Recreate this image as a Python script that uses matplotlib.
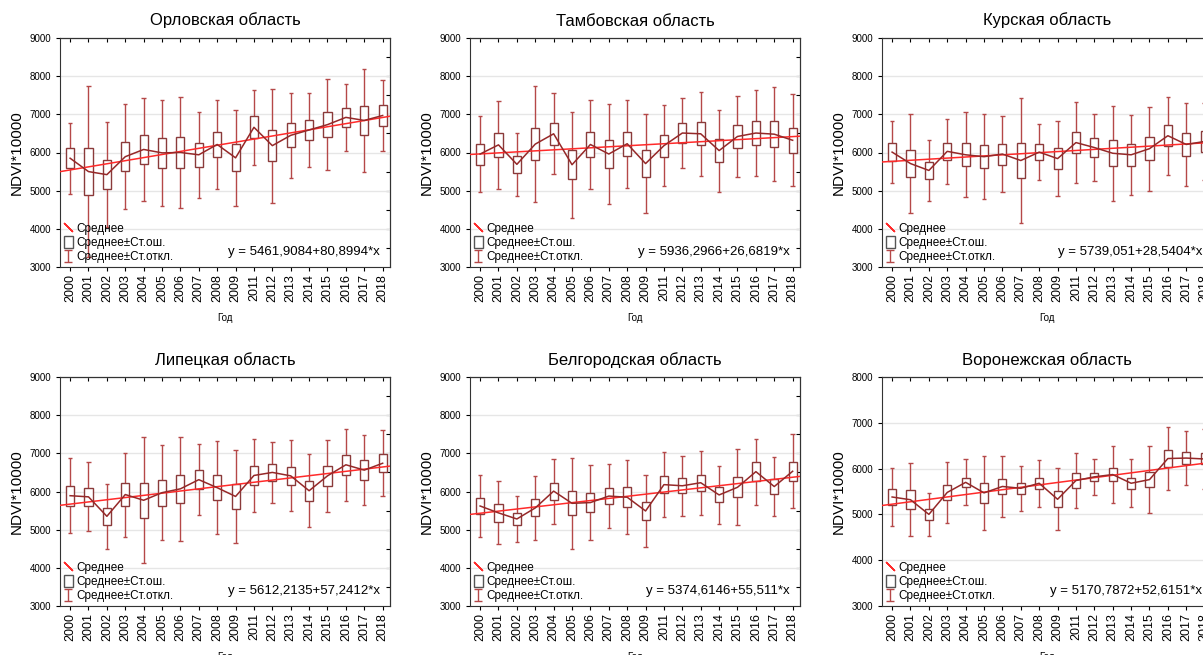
import numpy as np
import matplotlib
matplotlib.use("Agg")
from matplotlib import pyplot as plt
from matplotlib.lines import Line2D
from matplotlib.patches import Rectangle

plt.rcParams['font.family'] = ['Liberation Sans', 'DejaVu Sans']

years = ['2000', '2001', '2002', '2003', '2004', '2005', '2006', '2007', '2008',
         '2009', '2011', '2012', '2013', '2014', '2015', '2016', '2017', '2018']

titles = ['Орловская область', 'Тамбовская область', 'Курская область',
          'Липецкая область', 'Белгородская область', 'Воронежская область']

# mean, standard error, standard deviation of NDVI*10000 by year
orel_mean = [5850, 5500, 5420, 5890, 6080, 5990, 6000, 5940, 6210, 5860, 6660, 6180, 6450, 6590, 6730, 6920, 6840, 6970]
orel_se = [255, 625, 380, 380, 370, 385, 405, 310, 320, 350, 290, 410, 310, 270, 330, 245, 375, 265]
orel_sd = [930, 2240, 1370, 1370, 1355, 1380, 1460, 1130, 1165, 1255, 990, 1495, 1120, 965, 1200, 870, 1345, 930]

tamb_mean = [5960, 6200, 5690, 6220, 6490, 5680, 6210, 5960, 6230, 5710, 6180, 6510, 6490, 6050, 6420, 6510, 6480, 6320]
tamb_se = [275, 315, 230, 425, 295, 385, 325, 365, 320, 360, 290, 250, 300, 300, 290, 305, 335, 335]
tamb_sd = [990, 1150, 830, 1520, 1060, 1390, 1170, 1315, 1150, 1305, 1060, 905, 1105, 1075, 1065, 1120, 1230, 1205]

kursk_mean = [6010, 5710, 5530, 6030, 5940, 5890, 5960, 5790, 6010, 5840, 6260, 6130, 5980, 5940, 6100, 6440, 6210, 6290]
kursk_se = [230, 355, 220, 225, 305, 305, 275, 450, 200, 270, 285, 250, 340, 295, 300, 280, 305, 270]
kursk_sd = [820, 1295, 810, 850, 1110, 1120, 995, 1630, 725, 990, 1055, 880, 1245, 1045, 1100, 1025, 1095, 1000]

lip_mean = [5890, 5860, 5350, 5920, 5770, 5970, 6070, 6310, 6100, 5870, 6420, 6500, 6410, 6020, 6410, 6700, 6560, 6740]
lip_se = [265, 240, 230, 295, 455, 340, 375, 250, 330, 330, 255, 215, 245, 260, 255, 255, 255, 235]
lip_sd = [985, 905, 850, 1100, 1645, 1240, 1360, 935, 1225, 1230, 955, 805, 930, 955, 945, 950, 925, 870]

belg_mean = [5620, 5440, 5280, 5570, 6010, 5690, 5710, 5880, 5850, 5490, 6180, 6150, 6230, 5910, 6110, 6520, 6130, 6530]
belg_se = [205, 230, 160, 225, 225, 315, 260, 220, 255, 230, 225, 195, 215, 195, 260, 245, 200, 250]
belg_sd = [800, 825, 615, 835, 850, 1185, 975, 830, 970, 950, 860, 780, 835, 755, 995, 865, 770, 965]

vor_mean = [5380, 5320, 5000, 5480, 5700, 5470, 5610, 5570, 5680, 5330, 5740, 5820, 5870, 5680, 5760, 6220, 6230, 6210]
vor_se = [165, 210, 125, 170, 95, 215, 160, 115, 120, 175, 155, 85, 135, 115, 160, 180, 140, 120]
vor_sd = [625, 795, 470, 660, 500, 800, 660, 490, 515, 680, 600, 400, 630, 520, 735, 680, 595, 660]

# regression y = a + b*x, x = 1..18
reg_a = [5461.9084, 5936.2966, 5739.051, 5612.2135, 5374.6146, 5170.7872]
reg_b = [80.8994, 26.6819, 28.5404, 57.2412, 55.511, 52.6151]
eq_text = ['y = 5461,9084+80,8994*x', 'y = 5936,2966+26,6819*x', 'y = 5739,051+28,5404*x',
           'y = 5612,2135+57,2412*x', 'y = 5374,6146+55,511*x', 'y = 5170,7872+52,6151*x']
y_top = [9000, 9000, 9000, 9000, 9000, 8000]

data = [(orel_mean, orel_se, orel_sd), (tamb_mean, tamb_se, tamb_sd),
        (kursk_mean, kursk_se, kursk_sd), (lip_mean, lip_se, lip_sd),
        (belg_mean, belg_se, belg_sd), (vor_mean, vor_se, vor_sd)]

W, H = 1203, 655
fig = plt.figure(figsize=(W / 100, H / 100), dpi=100)

lefts = [60, 470, 882]
tops = [38, 377]
aw, ah = 330, 229

box_col = '#8a3a3a'
wh_col = '#b54848'
mean_col = '#962828'
reg_col = '#ff2a2a'

for k in range(6):
    r, c = divmod(k, 3)
    ax = fig.add_axes([lefts[c] / W, 1 - (tops[r] + ah) / H, aw / W, ah / H])
    m, se, sd = (np.array(v, dtype=float) for v in data[k])
    x = np.arange(len(years))

    ax.vlines(x, m - sd, m + sd, color=wh_col, lw=1.0, zorder=2)
    ax.hlines(m - sd, x - 0.12, x + 0.12, color=wh_col, lw=1.0, zorder=2)
    ax.hlines(m + sd, x - 0.12, x + 0.12, color=wh_col, lw=1.0, zorder=2)
    for xi, mi, si in zip(x, m, se):
        ax.add_patch(Rectangle((xi - 0.22, mi - si), 0.44, 2 * si, facecolor='white',
                               edgecolor=box_col, lw=1.0, zorder=3))

    xr = np.array([-1, 19])
    ax.plot(xr, reg_a[k] + reg_b[k] * (xr + 1), color=reg_col, lw=1.1, zorder=4)
    ax.plot(x, m, color=mean_col, lw=1.1, zorder=5)

    ax.set_xlim(-0.55, 17.4)
    ax.set_ylim(3000, y_top[k])
    ax.set_xticks(x)
    ax.set_xticklabels(years, rotation=90, fontsize=9)
    yt = np.arange(3000, y_top[k] + 1, 1000)
    ax.set_yticks(yt)
    ax.tick_params(axis='y', labelsize=7, direction='out', length=3)
    ax.tick_params(axis='x', direction='out', length=3, pad=2)
    ax.grid(axis='y', color='#e6e6e6', lw=1.0, zorder=0)
    for s in ax.spines.values():
        s.set_color('#333333')
        s.set_linewidth(0.8)

    top = ax.secondary_xaxis('top')
    top.set_xticks(x)
    top.tick_params(direction='in', length=3, labeltop=False)
    rgt = ax.secondary_yaxis('right')
    rgt.set_yticks(np.arange(3500, y_top[k], 500))
    rgt.tick_params(direction='in', length=3, labelright=False)

    ax.set_title(titles[k], fontsize=12, pad=9)
    ax.set_ylabel('NDVI*10000', fontsize=11, labelpad=4)
    ax.set_xlabel('Год', fontsize=7, labelpad=8)

    eb = ax.errorbar([np.nan], [np.nan], yerr=[1], color=wh_col, ls='none', capsize=3, elinewidth=1)
    handles = [Line2D([0], [0], color=reg_col, ls='none', marker=(2, 2, 45), markersize=9, mew=1),
               Rectangle((0, 0), 1, 1, facecolor='white', edgecolor='#555555'),
               eb]
    ax.legend(handles, ['Среднее', 'Среднее±Ст.ош.', 'Среднее±Ст.откл.'], loc='lower left',
              fontsize=8.5, frameon=False, handlelength=0.8, handleheight=1.1, handletextpad=0.3,
              labelspacing=0.15, borderaxespad=0.2, borderpad=0.1)
    ax.text(0.97, 0.04, eq_text[k], transform=ax.transAxes, ha='right', va='bottom', fontsize=9.5)

fig.savefig('out.png', dpi=100)
